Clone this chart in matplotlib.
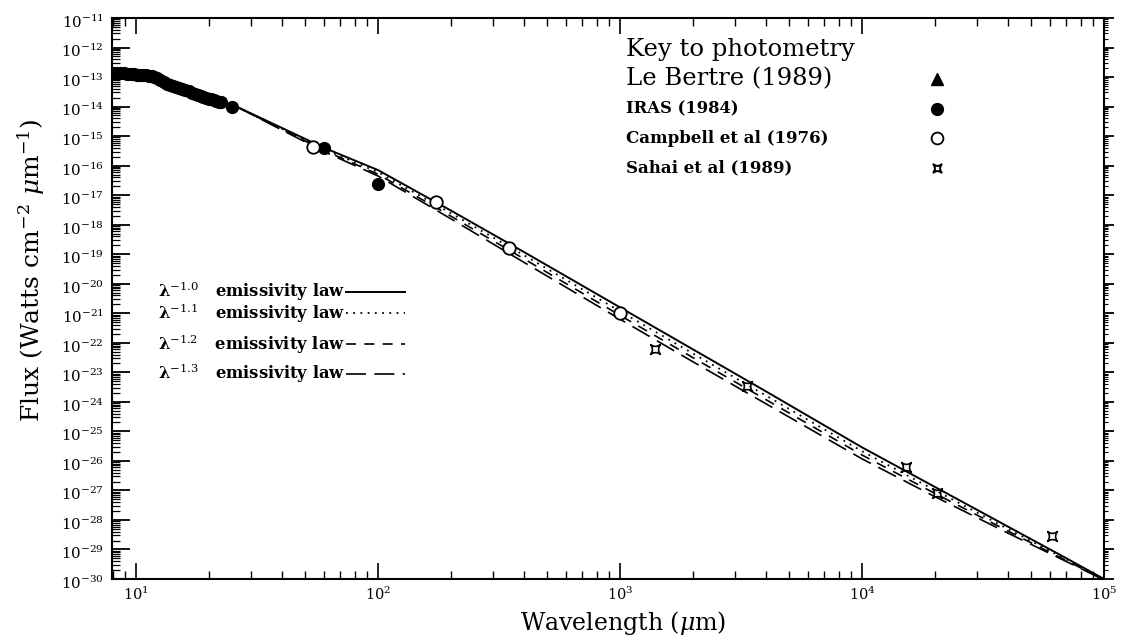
import numpy as np
import matplotlib
matplotlib.use("Agg")
import matplotlib.pyplot as plt
from matplotlib.path import Path
from matplotlib.lines import Line2D
from matplotlib.transforms import ScaledTranslation
from matplotlib.ticker import (LogLocator, FixedLocator, LogFormatterMathtext,
                               NullFormatter)

plt.rcParams["font.family"] = ["DejaVu Serif"]
plt.rcParams["mathtext.fontset"] = "dejavuserif"

# ---------------- data ----------------
# LRS spectrum (Watts cm^-2 um^-1)
lrs_wl = [8.0, 8.3, 8.6, 8.9, 9.2, 9.5, 9.8, 10.1, 10.4, 10.7, 11.0, 11.3,
          11.6, 11.9, 12.2, 12.6, 13.0, 13.4, 13.8, 14.2, 14.6, 15.0, 15.5,
          16.0, 16.5, 17.0, 17.5, 18.0, 18.5, 19.0, 19.5, 20.0, 20.5, 21.0,
          21.5, 22.0, 22.5]
lrs_flux = [1.40e-13, 1.38e-13, 1.36e-13, 1.33e-13, 1.30e-13, 1.27e-13,
            1.24e-13, 1.21e-13, 1.18e-13, 1.15e-13, 1.13e-13, 1.10e-13,
            1.05e-13, 9.8e-14, 9.0e-14, 8.0e-14, 6.8e-14, 5.9e-14, 5.4e-14,
            5.0e-14, 4.6e-14, 4.2e-14, 3.8e-14, 3.55e-14, 3.25e-14, 2.97e-14,
            2.72e-14, 2.50e-14, 2.33e-14, 2.18e-14, 2.02e-14, 1.87e-14,
            1.75e-14, 1.63e-14, 1.53e-14, 1.45e-14, 1.38e-14]

iras_wl = [25, 60, 100]
iras_flux = [1.0e-14, 3.9e-16, 2.3e-17]

campbell_wl = [54, 174, 349, 1000]
campbell_flux = [4.3e-16, 5.7e-18, 1.6e-19, 1.0e-21]

sahai_wl = [1400, 3340, 15200, 20400, 61000]
sahai_flux = [6.4e-23, 3.4e-24, 6.4e-27, 8.5e-28, 2.9e-29]

# Modified black-body model curves (log10 flux)
model_wl = [26, 40, 60, 100, 200, 400, 1000, 2000, 4000, 10000, 20000,
            40000, 70000, 100000]
model_b10 = [-14.00, -14.72, -15.40, -16.15, -17.52, -18.92, -20.80, -22.22,
             -23.64, -25.54, -26.88, -28.22, -29.30, -30.00]
model_b11 = [-14.00, -14.75, -15.45, -16.22, -17.61, -19.03, -20.93, -22.36,
             -23.78, -25.67, -26.99, -28.30, -29.34, -30.01]
model_b12 = [-14.00, -14.77, -15.49, -16.29, -17.71, -19.15, -21.07, -22.50,
             -23.92, -25.80, -27.10, -28.37, -29.38, -30.02]
model_b13 = [-14.00, -14.79, -15.53, -16.35, -17.80, -19.27, -21.20, -22.64,
             -24.06, -25.93, -27.21, -28.44, -29.41, -30.03]

# axis decades carrying labels
x_decades = [1, 2, 3, 4, 5]
y_decades = list(range(-30, -10))

emis_labels = ["λ$^{-1.0}$   emissivity law", "λ$^{-1.1}$   emissivity law",
               "λ$^{-1.2}$   emissivity law", "λ$^{-1.3}$   emissivity law"]
key_title = "Key to photometry"
key_labels = ["Le Bertre (1989)", "IRAS (1984)", "Campbell et al (1976)",
              "Sahai et al (1989)"]

# ---------------- figure ----------------
fig = plt.figure(figsize=(11.21, 6.40), dpi=100)
ax = fig.add_axes([0.0999, 0.0953, 0.8849, 0.8766])
ax.set_xscale("log")
ax.set_yscale("log")
ax.set_xlim(7.96, 1e5)
ax.set_ylim(1e-30, 1e-11)

# concave-square symbol for the millimetre photometry
star_path = Path(
    [(-1, 1), (0, 0.25), (1, 1), (0.25, 0), (1, -1), (0, -0.25), (-1, -1),
     (-0.25, 0), (-1, 1), (-1, 1)],
    [Path.MOVETO, Path.CURVE3, Path.CURVE3, Path.CURVE3, Path.CURVE3,
     Path.CURVE3, Path.CURVE3, Path.CURVE3, Path.CURVE3, Path.CLOSEPOLY])

styles = [
    dict(ls="-", lw=1.4),
    dict(ls=(0, (1, 3)), lw=1.3),
    dict(ls=(0, (6, 5)), lw=1.2),
    dict(ls=(0, (12, 5)), lw=1.2),
]
wl = np.array(model_wl, dtype=float)
curves = [model_b10, model_b11, model_b12, model_b13]
handles = []
for vals, st in zip(curves, styles):
    h, = ax.plot(wl, 10.0 ** np.array(vals), color="black", **st, zorder=2)
    handles.append(h)

ax.plot(lrs_wl, lrs_flux, "o", color="black", ms=8.5, zorder=3)
ax.plot(iras_wl, iras_flux, "o", color="black", ms=8.5, zorder=3)
ax.plot(campbell_wl, campbell_flux, "o", mfc="white", mec="black", mew=1.3,
        ms=9, zorder=4)
ax.plot(sahai_wl, sahai_flux, ls="none", marker=star_path, mfc="none",
        mec="black", mew=1.2, ms=7, zorder=4)

# ---------------- axes styling ----------------
for s in ax.spines.values():
    s.set_linewidth(1.5)

ax.xaxis.set_major_locator(FixedLocator(10.0 ** np.array(x_decades, dtype=float)))
ax.xaxis.set_minor_locator(LogLocator(base=10, subs=np.arange(2, 10), numticks=20))
ax.yaxis.set_major_locator(FixedLocator(10.0 ** np.array(y_decades, dtype=float)))
ax.yaxis.set_minor_locator(LogLocator(base=10, subs=np.arange(2, 10), numticks=40))
ax.xaxis.set_major_formatter(LogFormatterMathtext())
ax.yaxis.set_major_formatter(LogFormatterMathtext())
ax.xaxis.set_minor_formatter(NullFormatter())
ax.yaxis.set_minor_formatter(NullFormatter())

ax.tick_params(which="both", direction="in", top=True, right=False, color="black")
ax.tick_params(axis="x", which="major", length=11.5, width=1.2, labelsize=10.5, pad=5)
ax.tick_params(axis="x", which="minor", length=6, width=1.0)
ax.tick_params(axis="y", which="major", length=13, width=1.3, labelsize=10.8, pad=6)
ax.tick_params(axis="y", which="minor", length=5.8, width=0.9)

# nudge the y tick labels slightly downward; the topmost one a little more
# so that its exponent stays inside the figure
for tick in ax.yaxis.get_major_ticks():
    dy = 2.0
    if np.isclose(np.log10(tick.get_loc()), -11):
        dy = 5.0
    tick.label1.set_transform(tick.label1.get_transform()
                              + ScaledTranslation(0, -dy / 72, fig.dpi_scale_trans))

ax_r = ax.twinx()
ax_r.set_yscale("log")
ax_r.set_ylim(1e-30, 1e-11)
ax_r.yaxis.set_major_locator(FixedLocator(10.0 ** np.array(y_decades, dtype=float)))
ax_r.yaxis.set_minor_locator(LogLocator(base=10, subs=np.arange(2, 10), numticks=40))
ax_r.yaxis.set_major_formatter(NullFormatter())
ax_r.tick_params(which="both", direction="out", labelright=False)
ax_r.tick_params(which="major", length=7, width=1.3)
ax_r.tick_params(which="minor", length=3, width=0.8)
for s in ax_r.spines.values():
    s.set_visible(False)

ax.set_xlabel("Wavelength ($\\mu$m)", fontsize=17)
ax.set_ylabel("Flux (Watts cm$^{-2}$ $\\mu$m$^{-1}$)", fontsize=18)
ax.xaxis.set_label_coords(0.515, -0.054)
ax.yaxis.set_label_coords(-0.066, 0.55)

# ---------------- emissivity legend ----------------
row_y = [0.512, 0.474, 0.419, 0.366]
for h, lab, y in zip(handles, emis_labels, row_y):
    lg = ax.legend([h], [lab], loc="center left", bbox_to_anchor=(0.0464, y),
                   frameon=False, markerfirst=False, handlelength=3.6,
                   handletextpad=0.05, borderpad=0, borderaxespad=0,
                   prop=dict(size=11.8, weight="bold"))
    ax.add_artist(lg)

# ---------------- photometry key ----------------
kx = 0.5177
ax.text(kx, 0.943, key_title, transform=ax.transAxes, fontsize=17.5,
        va="center", ha="left")
key_sizes = [17.5, 11.8, 12, 12]
key_weights = ["normal", "bold", "bold", "bold"]
key_y = [0.891, 0.838, 0.786, 0.733]
for lab, y, fs, fw in zip(key_labels, key_y, key_sizes, key_weights):
    ax.text(kx, y, lab, transform=ax.transAxes, fontsize=fs, fontweight=fw,
            va="center", ha="left")

key_handles = [
    Line2D([], [], ls="none", marker="^", color="black", ms=8),
    Line2D([], [], ls="none", marker="o", color="black", ms=8.5),
    Line2D([], [], ls="none", marker="o", mfc="white", mec="black", mew=1.3, ms=8.5),
    Line2D([], [], ls="none", marker=star_path, mfc="none", mec="black", mew=1.2, ms=6),
]
for h, y in zip(key_handles, key_y):
    lg = ax.legend([h], [""], loc="center", bbox_to_anchor=(0.8315, y),
                   frameon=False, handlelength=1.0, handletextpad=0,
                   borderpad=0, borderaxespad=0, fontsize=1)
    ax.add_artist(lg)

fig.savefig("out.png", dpi=100)
